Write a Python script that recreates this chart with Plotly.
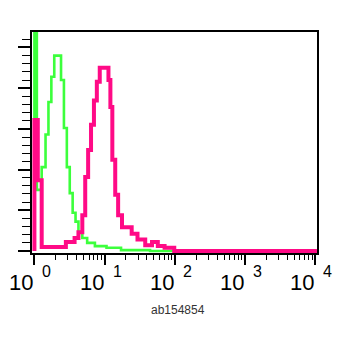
import numpy as np
import plotly.graph_objects as go

# ---- data (histogram bins) ----
# intensity bin edges (left edges; final value is the right edge of the last bin)
iso_edges = [1.00, 1.083, 1.269, 1.440, 1.584, 1.742, 1.916, 2.392, 2.631, 2.894,
             3.183, 3.501, 3.849, 4.234, 4.806, 5.632, 7.261, 10.62, 17.09, 44.26, 10500]
iso_counts = [290, 75, 103, 143, 183, 214, 240, 210, 151, 103,
              71, 47, 36, 23, 16, 10, 6, 4, 1, 0]

ab_edges = [1.00, 1.117, 1.269, 2.803, 3.729, 4.234, 4.806, 5.286, 5.814, 6.394,
            7.034, 7.734, 8.508, 11.32, 12.06, 12.85, 14.13, 15.54, 17.64, 24.23,
            29.31, 37.77, 47.17, 57.05, 71.25, 97.8, 10500]
ab_counts = [161, 87, 5, 11, 16, 23, 44, 91, 124, 155,
             185, 208, 225, 210, 177, 112, 69, 44, 29, 21,
             14, 7, 11, 6, 4, 0]

decade_vals = [1, 10, 100, 1000, 10000]
decade_base = ["10", "10", "10", "10", "10"]
decade_exp = ["0", "1", "2", "3", "4"]
x_title = "ab154854"


def step_path(edges, counts):
    xs = [edges[0]] + list(edges[:-1]) + [edges[-1]]
    ys = [0] + list(counts) + [counts[-1]]
    return xs, ys


fig = go.Figure()
gx, gy = step_path(iso_edges, iso_counts)
fig.add_trace(go.Scatter(x=gx, y=gy, mode="lines", line=dict(color="#3cff3c", width=2.6, shape="hv"),
                         showlegend=False, hoverinfo="skip"))
mx, my = step_path(ab_edges, ab_counts)
fig.add_trace(go.Scatter(x=mx, y=my, mode="lines", line=dict(color="#ff0a86", width=4, shape="hv"),
                         showlegend=False, hoverinfo="skip"))

minor_vals = [m * d for d in [1, 10, 100, 1000] for m in range(2, 10)]

fig.update_layout(
    width=350, height=353,
    margin=dict(l=15, r=40.5, t=24, b=108),
    paper_bgcolor="white", plot_bgcolor="white",
    showlegend=False,
    xaxis=dict(type="log", range=[-0.0344, 4.022], tickmode="array", tickvals=decade_vals,
               showticklabels=False, ticks="outside", ticklen=10, tickwidth=1.5, tickcolor="black",
               minor=dict(tickmode="array", tickvals=minor_vals, ticks="outside", ticklen=5,
                          tickwidth=1.3, tickcolor="black", showgrid=False),
               showgrid=False, zeroline=False, showline=True, linecolor="black", linewidth=1.5,
               mirror=True),
    yaxis=dict(range=[-2.5, 269], tickmode="linear", tick0=0, dtick=50, showticklabels=False,
               ticks="outside", ticklen=12, tickwidth=1.5, tickcolor="black",
               minor=dict(dtick=10, tick0=0, ticks="outside", ticklen=8, tickwidth=1.3,
                          tickcolor="black", showgrid=False),
               showgrid=False, zeroline=False, showline=True, linecolor="black", linewidth=1.5,
               mirror=True),
)

for v, b, e in zip(decade_vals, decade_base, decade_exp):
    lx = np.log10(v)
    fig.add_annotation(x=lx, xref="x", y=0, yref="paper", text=b, showarrow=False,
                       xanchor="right", yanchor="middle", xshift=1, yshift=-29,
                       font=dict(family="Liberation Sans Narrow, Liberation Sans, Arial", size=22, color="black"))
    fig.add_annotation(x=lx, xref="x", y=0, yref="paper", text=e, showarrow=False,
                       xanchor="left", yanchor="middle", xshift=6, yshift=-18,
                       font=dict(family="Liberation Sans, Arial", size=16, color="black"))

fig.add_annotation(x=0.5, xref="paper", y=0, yref="paper", text=x_title, showarrow=False,
                   xanchor="center", yanchor="middle", xshift=3, yshift=-57,
                   font=dict(family="Liberation Sans, Arial", size=12, color="#333333"))

fig.write_html("out.html")
